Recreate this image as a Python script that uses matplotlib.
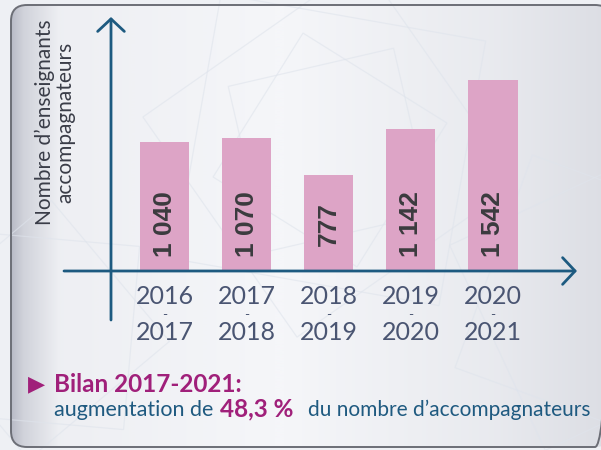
import numpy as np
import matplotlib
matplotlib.use("Agg")
import matplotlib.pyplot as plt
from matplotlib.patches import FancyBboxPatch, Polygon
from matplotlib.colors import LinearSegmentedColormap
from matplotlib import font_manager

# ---- data -------------------------------------------------------------
years_start = ["2016", "2017", "2018", "2019", "2020"]
years_end = ["2017", "2018", "2019", "2020", "2021"]
teachers = [1040, 1070, 777, 1142, 1542]

y_title = "Nombre d\u2019enseignants\naccompagnateurs"
summary_title = "Bilan 2017-2021:"
summary_pre = "augmentation de"
summary_pct = "48,3 %"
summary_post = "du nombre d\u2019accompagnateurs"

# ---- styling ----------------------------------------------------------
W, H = 601, 450
BAR = "#dda4c6"
AXIS = "#1d5a80"
LABEL = "#3b3b3e"
YEAR = "#4a5572"
MAGENTA = "#a0207a"
BLUE = "#1f5a80"

available = {f.name for f in font_manager.fontManager.ttflist}
REG = ["Lato", "DejaVu Sans"] if "Lato" in available else ["DejaVu Sans"]

fig = plt.figure(figsize=(W / 100, H / 100), dpi=100)
fig.patch.set_facecolor("#eef0f4")


def fx(x):
    return x / W


def fy(y):
    return 1 - y / H


# ---- background panel -------------------------------------------------
bg = fig.add_axes([0, 0, 1, 1], zorder=0)
bg.set_xlim(0, W)
bg.set_ylim(H, 0)
bg.axis("off")

xs = np.linspace(0, 1, 600)
grad = np.interp(xs, [0.0, 0.02, 0.08, 0.45, 0.80, 1.0],
                 [0.0, 0.40, 0.88, 1.0, 0.80, 0.58])
img = np.tile(grad, (50, 1))
cmap = LinearSegmentedColormap.from_list("panel", ["#b8bbc6", "#f5f6f9"])
panel = FancyBboxPatch((11, 5), 600, 442, boxstyle="round,pad=0,rounding_size=16",
                       fc="none", ec="#6c6e76", lw=1.4, zorder=3)
bg.add_patch(panel)
im = bg.imshow(img, extent=[11, 612, 447, 5], cmap=cmap, aspect="auto",
               interpolation="bicubic", zorder=1)
clip = FancyBboxPatch((11, 5), 600, 442, boxstyle="round,pad=0,rounding_size=16",
                      fc="none", ec="none", transform=bg.transData)
bg.add_patch(clip)
im.set_clip_path(clip)


# faint geometric ornament
def star(cx, cy, r, rot):
    pts = []
    for k in range(8):
        a = np.deg2rad(rot + k * 45)
        pts.append((cx + r * np.cos(a), cy + r * np.sin(a)))
    sq1 = [pts[i] for i in (0, 2, 4, 6)]
    sq2 = [pts[i] for i in (1, 3, 5, 7)]
    for sq in (sq1, sq2):
        bg.add_patch(Polygon(sq, closed=True, fill=False, ec="#dfe4ec",
                             lw=0.9, alpha=0.6, zorder=2))


star(330, 150, 190, 10)
star(330, 150, 120, 32)
star(600, 300, 160, 20)
star(40, 330, 130, 5)

# ---- chart axes -------------------------------------------------------
px_per_cat = 82.1
x0_px = 164.5
px_per_unit = 0.124
y0_px = 271
left_px, right_px, top_px, bottom_px = 60, 585, 10, 325

ax = fig.add_axes([fx(left_px), fy(bottom_px), (right_px - left_px) / W,
                   (bottom_px - top_px) / H], zorder=2)
ax.set_facecolor("none")
ax.set_xlim((left_px - x0_px) / px_per_cat, (right_px - x0_px) / px_per_cat)
ax.set_ylim(-(bottom_px - y0_px) / px_per_unit, (y0_px - top_px) / px_per_unit)
ax.axis("off")

pos = np.arange(len(teachers))
ax.bar(pos, teachers, width=0.6, color=BAR, zorder=2)

for i, v in enumerate(teachers):
    txt = f"{v:,}".replace(",", " ")
    ax.text(i, 47 / px_per_unit, txt, rotation=90, ha="center", va="center",
            fontsize=19, fontweight="bold", family="Liberation Sans",
            color=LABEL, zorder=3)

# axes with open arrowheads
xa = (111 - x0_px) / px_per_cat
arrow = dict(arrowstyle="->,head_length=0.45,head_width=0.48", lw=2.0,
             color=AXIS, mutation_scale=20, shrinkA=0, shrinkB=0)
ax.annotate("", xy=(xa, (y0_px - 17) / px_per_unit),
            xytext=(xa, -(320 - y0_px) / px_per_unit), arrowprops=arrow,
            annotation_clip=False, zorder=4)
ax.annotate("", xy=((577 - x0_px) / px_per_cat, 0),
            xytext=((64 - x0_px) / px_per_cat, 0), arrowprops=arrow,
            annotation_clip=False, zorder=4)

# category labels
for i, (a, b) in enumerate(zip(years_start, years_end)):
    ax.text(i, -(296 - y0_px) / px_per_unit, a, ha="center", va="center",
            fontsize=18, family=REG, color=YEAR, clip_on=False)
    ax.text(i, -(315 - y0_px) / px_per_unit, "-", ha="center", va="center",
            fontsize=10, family=REG, color=YEAR, clip_on=False)
    ax.text(i, -(333 - y0_px) / px_per_unit, b, ha="center", va="center",
            fontsize=18, family=REG, color=YEAR, clip_on=False)

# y axis title
fig.text(fx(55), fy(122), y_title, rotation=90, ha="center", va="center",
         fontsize=15, family=REG, color="#3a3d48",
         linespacing=1.0, multialignment="center")

# ---- summary ----------------------------------------------------------
fig.text(fx(28), fy(384), "\u25B6", ha="left", va="center", fontsize=16,
         family="DejaVu Sans", color=MAGENTA)
fig.text(fx(54), fy(384), summary_title, ha="left", va="center", fontsize=17.5,
         family=REG, fontweight="bold", color=MAGENTA)

base = fy(416)
t_pre = fig.text(fx(54), base, summary_pre, ha="left", va="baseline",
                 fontsize=15.5, family=REG, color=BLUE)
t_pct = fig.text(fx(212), base, summary_pct, ha="left", va="baseline",
                 fontsize=17.5, family=REG, fontweight="bold", color=MAGENTA)
t_post = fig.text(fx(305), base, summary_post, ha="left", va="baseline",
                  fontsize=15, family=REG, color=BLUE)

# keep the three pieces of the sentence from running into each other
renderer = fig.canvas.get_renderer()
pre_end = t_pre.get_window_extent(renderer).x1
t_pct.set_x(max(fx(212), (pre_end + 7) / W))
pct_end = t_pct.get_window_extent(renderer).x1
t_post.set_x(max(fx(305), (pct_end + 14) / W))

fig.savefig("out.png", dpi=100)
